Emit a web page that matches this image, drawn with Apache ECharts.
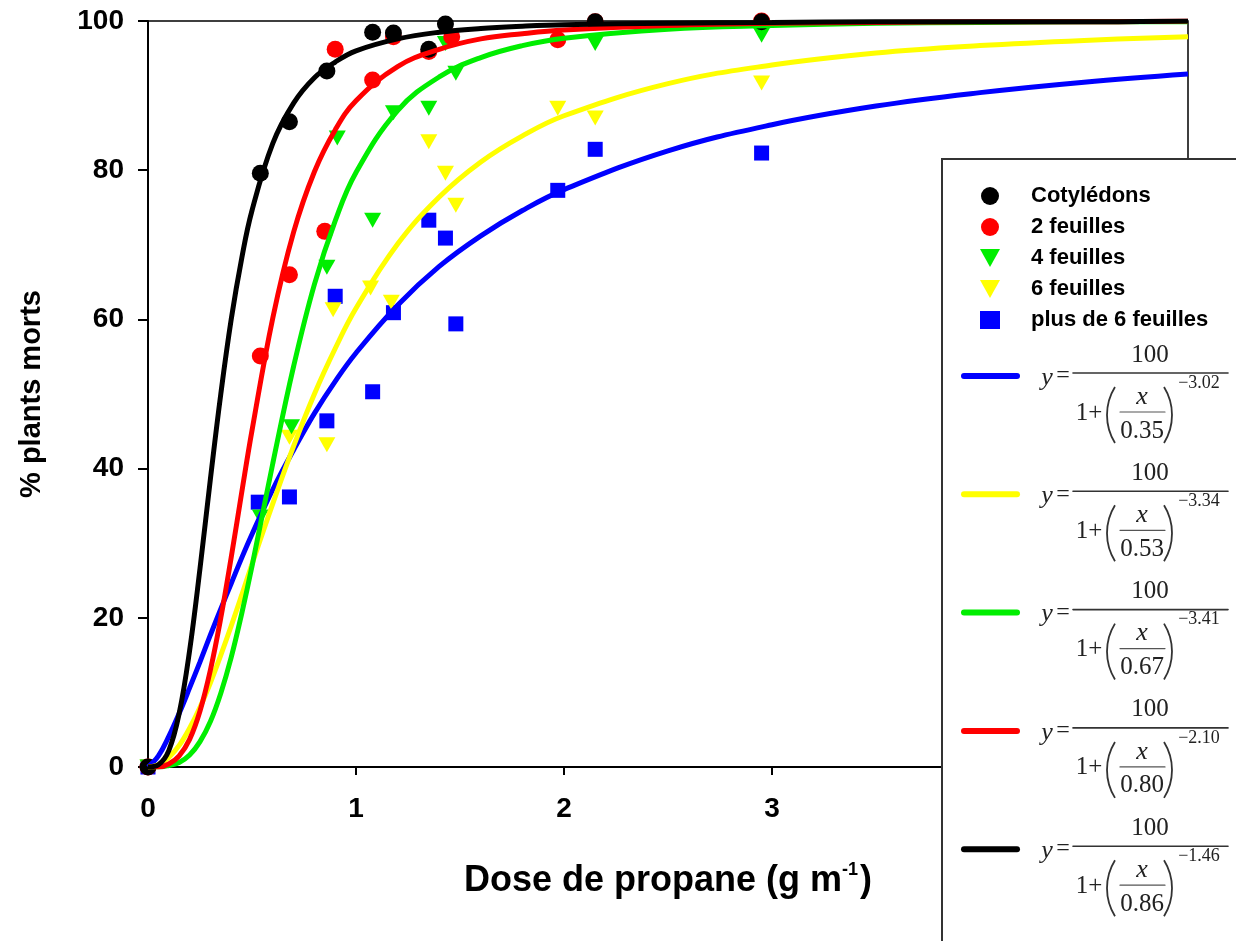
<!DOCTYPE html>
<html>
<head>
<meta charset="utf-8">
<script src="https://cdn.jsdelivr.net/npm/echarts@6/dist/echarts.min.js"></script>
<style>
  html, body { margin: 0; padding: 0; background: #fff; }
  #chart { width: 1236px; height: 941px; }
</style>
</head>
<body>
<div id="chart"></div>
<script>
// points mesurés [dose, % morts]
const cotyledons = [[0, 0], [0.54, 79.6], [0.68, 86.5], [0.86, 93.3], [1.08, 98.5], [1.18, 98.4], [1.35, 96.2], [1.43, 99.6], [2.15, 99.9], [2.95, 99.9]];
const feuilles2 = [[0, 0], [0.54, 55.1], [0.68, 66.0], [0.85, 71.8], [0.90, 96.2], [1.08, 92.1], [1.18, 97.9], [1.35, 95.9], [1.46, 97.9], [1.97, 97.5], [2.15, 99.9], [2.95, 100]];
const feuilles4 = [[0, 0], [0.54, 33.5], [0.69, 45.6], [0.86, 67.0], [0.91, 84.3], [1.08, 73.3], [1.18, 87.7], [1.35, 88.3], [1.43, 97.0], [1.48, 93.0], [2.15, 97.0], [2.95, 98.1]];
const feuilles6 = [[0, 0], [0.68, 44.2], [0.86, 43.2], [0.89, 61.3], [1.07, 64.2], [1.17, 62.3], [1.35, 83.8], [1.43, 79.6], [1.48, 75.3], [1.97, 88.3], [2.15, 87.0], [2.95, 91.7]];
const plusDe6 = [[0, 0], [0.53, 35.5], [0.68, 36.2], [0.86, 46.4], [0.90, 63.1], [1.08, 50.3], [1.18, 60.9], [1.35, 73.3], [1.43, 70.9], [1.48, 59.4], [1.97, 77.3], [2.15, 82.8], [2.95, 82.3]];

// courbes ajustées
const curveX = [0, 0.05, 0.1, 0.15, 0.2, 0.25, 0.3, 0.35, 0.4, 0.45, 0.5, 0.6, 0.7, 0.8, 0.9, 1.0, 1.2, 1.4, 1.6, 1.8, 2.0, 2.5, 3.0, 3.5, 4.0, 4.5, 5.0];
const curveBlack = [0, 0.3, 2.2, 7.2, 15.6, 26.6, 38.6, 50.0, 60.0, 68.1, 74.6, 83.6, 89.0, 92.4, 94.5, 96.0, 97.6, 98.5, 99.0, 99.3, 99.5, 99.7, 99.8, 99.9, 99.9, 99.9, 100.0];
const curveRed = [0, 0.0, 0.4, 1.5, 3.7, 7.5, 13.0, 20.0, 28.1, 36.7, 45.1, 60.2, 71.7, 79.8, 85.4, 89.3, 93.9, 96.2, 97.6, 98.3, 98.8, 99.4, 99.7, 99.8, 99.9, 99.9, 100.0];
const curveGreen = [0, 0.0, 0.2, 0.6, 1.6, 3.4, 6.1, 9.9, 14.7, 20.5, 26.9, 40.7, 53.7, 64.7, 73.2, 79.7, 88.0, 92.5, 95.1, 96.7, 97.7, 98.9, 99.4, 99.7, 99.8, 99.9, 99.9];
const curveYellow = [0, 0.3, 1.3, 2.9, 5.2, 8.0, 11.3, 15.0, 18.9, 23.0, 27.2, 35.3, 43.0, 50.0, 56.1, 61.5, 70.1, 76.4, 81.1, 84.6, 87.3, 91.6, 94.1, 95.7, 96.7, 97.4, 97.9];
const curveBlue = [0, 1.5, 4.1, 7.2, 10.6, 14.1, 17.7, 21.2, 24.6, 28.0, 31.2, 37.2, 42.5, 47.4, 51.7, 55.5, 61.9, 67.1, 71.2, 74.6, 77.4, 82.6, 86.1, 88.6, 90.4, 91.8, 92.9];

// équations de la légende (dans l'ordre de la figure)
const eqColors = ['#0000ff', '#ffff00', '#00ee00', '#ff0000', '#000000'];
const eqExponents = ['\u22123.02', '\u22123.34', '\u22123.41', '\u22122.10', '\u22121.46'];
const eqScales = ['0.35', '0.53', '0.67', '0.80', '0.86'];

const triangleDown = 'path://M0,0L10,0L5,9Z';

const chart = echarts.init(document.getElementById('chart'), null, { renderer: 'canvas' });

const pair = (ys) => curveX.map((x, i) => [x, ys[i]]);

const lineSerie = (data, color) => ({
    type: 'line',
    data: pair(data),
    smooth: 0.4,
    showSymbol: false,
    silent: true,
    z: 3,
    lineStyle: { color: color, width: 5 }
});

const scatterSerie = (name, data, color, symbol, size) => ({
    name: name,
    type: 'scatter',
    data: data,
    symbol: symbol,
    symbolSize: size,
    z: 2,
    itemStyle: { color: color, opacity: 1 }
});

// construit une équation de la légende
const equation = (i) => {
    const y0 = 376 + i * 118.3;
    const serif = '"Liberation Serif", "Times New Roman", serif';
    const txt = (x, y, text, size, italic) => ({
        type: 'text', z: 51,
        style: { x: x, y: y, text: text, fontFamily: serif, fontSize: size, fontStyle: italic ? 'italic' : 'normal', fill: '#222', align: 'center', verticalAlign: 'middle' }
    });
    const ln = (x1, y1, x2, y2, color, w) => ({
        type: 'line', z: 51,
        shape: { x1: x1, y1: y1, x2: x2, y2: y2 },
        style: { stroke: color, lineWidth: w, lineCap: 'round' }
    });
    const a = 0.556;
    return [
        ln(964, y0, 1017, y0, eqColors[i], 6),
        txt(1047, y0 + 2, 'y', 26, true),
        txt(1063, y0, '=', 24, false),
        txt(1150, y0 - 21, '100', 25, false),
        ln(1073, y0 - 3, 1228, y0 - 3, '#333', 1.6),
        txt(1089, y0 + 37, '1+', 25, false),
        { type: 'arc', z: 51, shape: { cx: 1160, cy: y0 + 39, r: 53, startAngle: Math.PI - a, endAngle: Math.PI + a, clockwise: true }, style: { stroke: '#333', lineWidth: 1.8, fill: null } },
        txt(1142, y0 + 21, 'x', 26, true),
        ln(1120, y0 + 36, 1165, y0 + 36, '#555', 1.2),
        txt(1142, y0 + 55, eqScales[i], 25, false),
        { type: 'arc', z: 51, shape: { cx: 1119, cy: y0 + 39, r: 53, startAngle: -a, endAngle: a, clockwise: true }, style: { stroke: '#333', lineWidth: 1.8, fill: null } },
        txt(1199, y0 + 7, eqExponents[i], 18, false)
    ];
};

let eqElements = [];
for (let i = 0; i < eqColors.length; i++) {
    eqElements = eqElements.concat(equation(i));
}

const option = {
    backgroundColor: '#fff',
    animation: false,
    grid: {
        left: 148, right: 48, top: 21, bottom: 174,
        show: true, borderColor: '#000', borderWidth: 1.5, backgroundColor: 'transparent'
    },
    xAxis: {
        type: 'value', min: 0, max: 5, interval: 1,
        name: '{b|Dose de propane (g m}{s|-1}{b|)}',
        nameLocation: 'middle', nameGap: 92,
        nameTextStyle: {
            rich: {
                b: { fontFamily: '"Liberation Sans", Arial, sans-serif', fontWeight: 'bold', fontSize: 36, color: '#000', lineHeight: 40, verticalAlign: 'bottom' },
                s: { fontFamily: '"Liberation Sans", Arial, sans-serif', fontWeight: 'bold', fontSize: 18, color: '#000', lineHeight: 18, verticalAlign: 'top', padding: [2, 2, 0, 0] }
            }
        },
        axisLine: { lineStyle: { color: '#000', width: 2 } },
        axisTick: { inside: false, length: 8, lineStyle: { color: '#000', width: 2 } },
        axisLabel: { margin: 28, fontFamily: '"Liberation Sans Narrow", "Liberation Sans", Arial, sans-serif', fontWeight: 'bold', fontSize: 28, color: '#000' },
        splitLine: { show: false }
    },
    yAxis: {
        type: 'value', min: 0, max: 100, interval: 20,
        name: '% plants morts',
        nameLocation: 'middle', nameRotate: 90, nameGap: 102,
        nameTextStyle: { fontFamily: '"Liberation Sans", Arial, sans-serif', fontWeight: 'bold', fontSize: 29, color: '#000' },
        axisLine: { lineStyle: { color: '#000', width: 2 } },
        axisTick: { inside: false, length: 10, lineStyle: { color: '#000', width: 2 } },
        axisLabel: { margin: 24, fontFamily: '"Liberation Sans", Arial, sans-serif', fontWeight: 'bold', fontSize: 28, color: '#000' },
        splitLine: { show: false }
    },
    legend: {
        orient: 'vertical',
        left: 975, top: 180,
        z: 60,
        itemWidth: 20, itemHeight: 18, itemGap: 9,
        data: ['Cotylédons', '2 feuilles', '4 feuilles', '6 feuilles', 'plus de 6 feuilles'],
        formatter: (name) => '{t|' + name + '}',
        textStyle: {
            rich: {
                t: { fontFamily: '"Liberation Sans", Arial, sans-serif', fontWeight: 'bold', fontSize: 22, color: '#000', padding: [0, 0, 0, 26] }
            }
        }
    },
    graphic: [
        {
            type: 'rect', z: 50,
            shape: { x: 942, y: 159, width: 320, height: 800 },
            style: { fill: '#fff', stroke: '#333', lineWidth: 2 }
        }
    ].concat(eqElements),
    series: [
        scatterSerie('plus de 6 feuilles', plusDe6, '#0000ff', 'rect', 15),
        scatterSerie('6 feuilles', feuilles6, '#ffff00', triangleDown, [17, 15]),
        scatterSerie('4 feuilles', feuilles4, '#00ee00', triangleDown, [17, 15]),
        scatterSerie('2 feuilles', feuilles2, '#ff0000', 'circle', 17),
        scatterSerie('Cotylédons', cotyledons, '#000000', 'circle', 17),
        lineSerie(curveBlue, '#0000ff'),
        lineSerie(curveYellow, '#ffff00'),
        lineSerie(curveGreen, '#00ee00'),
        lineSerie(curveRed, '#ff0000'),
        lineSerie(curveBlack, '#000000')
    ]
};

chart.setOption(option);
</script>
</body>
</html>
